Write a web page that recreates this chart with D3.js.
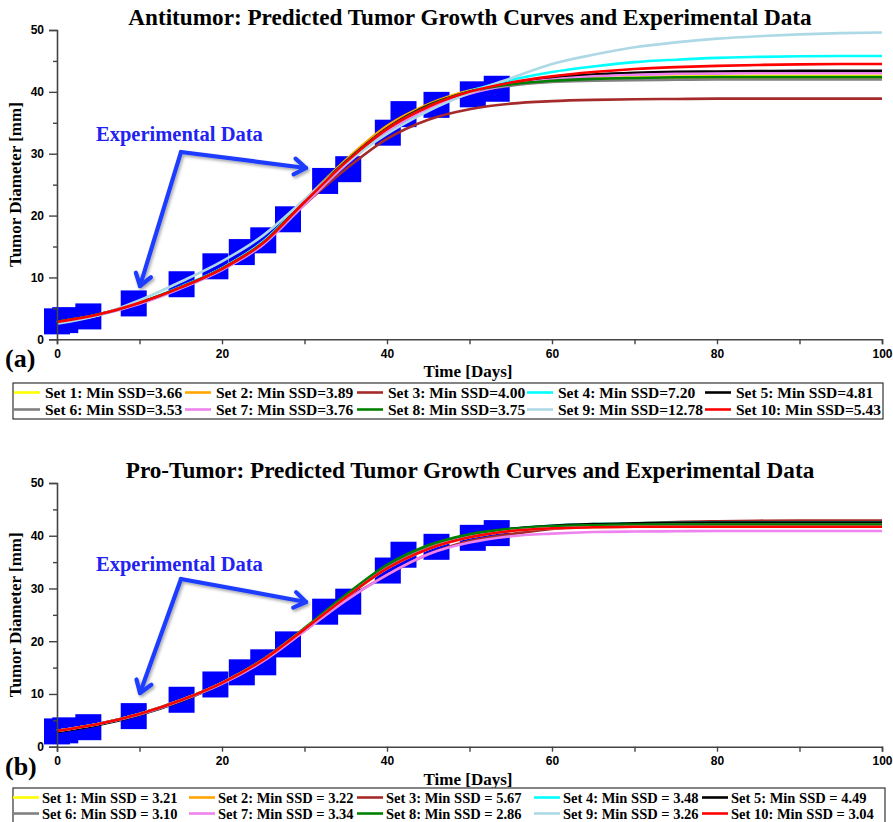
<!DOCTYPE html>
<html>
<head>
<meta charset="utf-8">
<script src="https://cdn.jsdelivr.net/npm/d3@7"></script>
<style>
  html, body { margin: 0; padding: 0; background: #fff; }
  svg { display: block; }
</style>
</head>
<body>
<svg id="chart" width="893" height="822"></svg>
<script>
// ---- data ----
const setNames = ["Set 1", "Set 2", "Set 3", "Set 4", "Set 5", "Set 6", "Set 7", "Set 8", "Set 9", "Set 10"];
const setColors = ["#ffff00", "#ffa500", "#a52a2a", "#00ffff", "#000000", "#808080", "#ee82ee", "#008000", "#add8e6", "#ff0000"];

// experimental measurements (day, diameter in mm)
const expDays = [0, 1, 3.8, 9.3, 15.1, 19.2, 22.4, 25, 28, 32.5, 35.3, 40.1, 42, 46, 50.4, 53.3];
const expDiameter = [2.9, 3.1, 3.7, 5.8, 8.9, 11.8, 14.1, 16.0, 19.4, 25.6, 27.5, 33.4, 36.4, 37.9, 39.6, 40.5];

// predicted curves sampled every 5 days
const curveDays = [0, 5, 10, 15, 20, 25, 30, 35, 40, 45, 50, 55, 60, 65, 70, 75, 80, 85, 90, 95, 100];

// Antitumor
const antiSet1 = [2.8, 4.0, 5.9, 8.4, 11.4, 15.6, 22.2, 28.6, 34.0, 37.7, 40.0, 41.3, 41.9, 42.2, 42.4, 42.5, 42.55, 42.6, 42.6, 42.6, 42.6];
const antiSet2 = [2.8, 4.0, 5.9, 8.4, 11.5, 15.8, 22.5, 29.0, 34.5, 38.0, 40.2, 41.3, 41.8, 42.05, 42.2, 42.25, 42.3, 42.3, 42.3, 42.3, 42.3];
const antiSet3 = [2.8, 4.0, 5.9, 8.4, 11.4, 15.5, 21.8, 27.5, 32.4, 35.5, 37.2, 38.1, 38.5, 38.7, 38.8, 38.85, 38.9, 38.9, 38.9, 38.9, 38.9];
const antiSet4 = [2.7, 3.9, 5.9, 8.5, 11.5, 15.8, 22.4, 28.7, 34.0, 37.6, 40.1, 41.9, 43.2, 44.1, 44.8, 45.2, 45.5, 45.65, 45.75, 45.8, 45.8];
const antiSet5 = [2.8, 4.0, 5.9, 8.4, 11.4, 15.6, 22.3, 28.7, 34.1, 37.8, 40.0, 41.4, 42.3, 42.8, 43.1, 43.25, 43.3, 43.35, 43.4, 43.4, 43.4];
const antiSet6 = [2.8, 4.0, 5.9, 8.4, 11.4, 15.6, 22.2, 28.6, 34.0, 37.6, 39.9, 41.0, 41.6, 41.8, 41.9, 41.95, 42.0, 42.0, 42.0, 42.0, 42.0];
const antiSet7 = [2.7, 3.9, 5.7, 8.2, 11.2, 15.3, 21.8, 28.2, 33.6, 37.3, 39.7, 41.2, 42.0, 42.5, 42.75, 42.9, 42.95, 43.0, 43.0, 43.0, 43.0];
const antiSet8 = [2.8, 4.0, 5.9, 8.4, 11.4, 15.6, 22.2, 28.6, 34.0, 37.7, 40.0, 41.2, 41.8, 42.1, 42.25, 42.35, 42.4, 42.4, 42.4, 42.4, 42.4];
const antiSet9 = [2.5, 3.9, 6.3, 9.3, 12.6, 16.8, 22.6, 28.4, 33.2, 36.9, 39.8, 42.2, 44.5, 46.0, 47.2, 48.0, 48.6, 49.0, 49.3, 49.5, 49.6];
const antiSet10 = [2.8, 4.0, 5.9, 8.4, 11.4, 15.6, 22.2, 28.6, 34.0, 37.6, 40.0, 41.5, 42.5, 43.2, 43.7, 44.0, 44.2, 44.35, 44.45, 44.5, 44.5];
const antiSSD = ["3.66", "3.89", "4.00", "7.20", "4.81", "3.53", "3.76", "3.75", "12.78", "5.43"];

// Pro-Tumor
const proSet1 = [3.0, 4.3, 6.2, 8.8, 12.1, 16.5, 22.3, 28.4, 34.0, 37.8, 40.0, 41.2, 41.8, 42.1, 42.3, 42.4, 42.45, 42.5, 42.5, 42.5, 42.5];
const proSet2 = [3.0, 4.3, 6.2, 8.8, 12.1, 16.5, 22.3, 28.3, 33.8, 37.5, 39.7, 40.9, 41.4, 41.6, 41.7, 41.7, 41.7, 41.7, 41.7, 41.7, 41.7];
const proSet3 = [3.0, 4.3, 6.2, 8.7, 12.0, 16.3, 22.0, 27.8, 32.6, 36.5, 39.0, 40.3, 41.3, 41.9, 42.3, 42.6, 42.75, 42.85, 42.9, 42.9, 42.9];
const proSet4 = [3.0, 4.3, 6.2, 8.8, 12.1, 16.5, 22.3, 28.4, 34.1, 37.9, 40.1, 41.3, 41.9, 42.2, 42.35, 42.45, 42.5, 42.5, 42.5, 42.5, 42.5];
const proSet5 = [2.8, 4.1, 6.0, 8.6, 12.0, 16.4, 22.3, 28.5, 34.2, 38.0, 40.2, 41.3, 41.9, 42.2, 42.35, 42.45, 42.5, 42.5, 42.5, 42.5, 42.5];
const proSet6 = [3.0, 4.3, 6.2, 8.8, 12.1, 16.5, 22.3, 28.4, 34.0, 37.8, 39.9, 41.0, 41.6, 41.9, 42.0, 42.1, 42.1, 42.1, 42.1, 42.1, 42.1];
const proSet7 = [3.0, 4.3, 6.1, 8.7, 11.9, 16.2, 21.9, 27.7, 32.6, 36.5, 38.7, 39.9, 40.4, 40.7, 40.8, 40.85, 40.9, 40.9, 40.9, 40.9, 40.9];
const proSet8 = [3.0, 4.3, 6.2, 8.8, 12.1, 16.6, 22.5, 28.8, 34.5, 38.2, 40.3, 41.3, 41.8, 42.0, 42.1, 42.1, 42.1, 42.1, 42.1, 42.1, 42.1];
const proSet9 = [3.0, 4.3, 6.2, 8.8, 12.1, 16.5, 22.3, 28.3, 33.8, 37.5, 39.7, 40.9, 41.4, 41.6, 41.7, 41.7, 41.7, 41.7, 41.7, 41.7, 41.7];
const proSet10 = [3.0, 4.3, 6.2, 8.8, 12.1, 16.5, 22.3, 28.3, 33.8, 37.5, 39.7, 40.9, 41.4, 41.6, 41.7, 41.7, 41.7, 41.7, 41.7, 41.7, 41.7];
const proSSD = ["3.21", "3.22", "5.67", "3.48", "4.49", "3.10", "3.34", "2.86", "3.26", "3.04"];

const yTicks = [0, 5, 10, 15, 20, 25, 30, 35, 40, 45, 50];
const xTicks = [0, 10, 20, 30, 40, 50, 60, 70, 80, 90, 100];

// ---- drawing ----
const SERIF = "'Liberation Serif', 'Times New Roman', serif";
const SANS = "'Liberation Sans', Arial, Helvetica, sans-serif";
const svg = d3.select("#chart");

const defs = svg.append("defs");
const shadow = defs.append("filter").attr("id", "arrowShadow")
  .attr("x", "-20%").attr("y", "-20%").attr("width", "140%").attr("height", "140%");
shadow.append("feDropShadow").attr("dx", 1.5).attr("dy", 2).attr("stdDeviation", 1.5)
  .attr("flood-color", "#000").attr("flood-opacity", 0.35);

function drawPanel(cfg) {
  const g = svg.append("g");
  const x = d3.scaleLinear().domain([0, 100]).range([57, 882]);
  const y = d3.scaleLinear().domain([0, 50]).range([cfg.bottom, cfg.top]);

  // title
  g.append("text").attr("x", 470).attr("y", cfg.titleY)
    .attr("text-anchor", "middle").attr("font-family", SERIF).attr("font-weight", "bold")
    .attr("font-size", 23.2).text(cfg.title);

  // experimental squares
  const sq = 26;
  g.append("g").selectAll("rect").data(expDays.map((d, i) => [d, expDiameter[i]]))
    .join("rect")
    .attr("x", d => x(d[0]) - sq / 2).attr("y", d => y(d[1]) - sq / 2)
    .attr("width", sq).attr("height", sq)
    .attr("fill", "#0000ff");

  // predicted curves
  const line = d3.line().x((d, i) => x(curveDays[i])).y(d => y(d)).curve(d3.curveMonotoneX);
  g.append("g").selectAll("path").data(cfg.series).join("path")
    .attr("d", d => line(d))
    .attr("fill", "none")
    .attr("stroke", (d, i) => setColors[i])
    .attr("stroke-width", 2.6);

  // axes
  const yAxis = d3.axisLeft(y).tickValues(yTicks).tickSizeOuter(0).tickSize(8).tickPadding(5)
    .tickFormat(d => d % 10 === 0 ? d : "");
  const ya = g.append("g").attr("transform", "translate(57,0)").call(yAxis);
  ya.selectAll(".tick").filter(d => d % 10 !== 0).select("line").attr("x2", -4);

  const xAxis = d3.axisBottom(x).tickValues(xTicks).tickSizeOuter(0).tickSize(5).tickPadding(5)
    .tickFormat(d => d % 20 === 0 ? d : "");
  const xa = g.append("g").attr("transform", `translate(0,${cfg.bottom})`).call(xAxis);

  [ya, xa].forEach(a => {
    a.select(".domain").attr("stroke", "#444").attr("stroke-width", 1.6);
    a.selectAll(".tick line").attr("stroke", "#444").attr("stroke-width", 1.4);
    a.selectAll(".tick text").attr("font-family", SANS).attr("font-weight", "bold")
      .attr("font-size", 12).attr("fill", "#000");
  });

  // axis titles
  g.append("text")
    .attr("transform", `translate(21,${(cfg.top + cfg.bottom) / 2}) rotate(-90)`)
    .attr("text-anchor", "middle").attr("font-family", SERIF).attr("font-weight", "bold")
    .attr("font-size", 17).text("Tumor Diameter [mm]");
  g.append("text").attr("x", 468).attr("y", cfg.bottom + 38)
    .attr("text-anchor", "middle").attr("font-family", SERIF).attr("font-weight", "bold")
    .attr("font-size", 17).text("Time [Days]");

  // panel tag
  g.append("text").attr("x", 5).attr("y", cfg.bottom + 28)
    .attr("font-family", SERIF).attr("font-weight", "bold")
    .attr("font-size", 26).text(cfg.tag);

  // annotation
  const blue = "#1f3cff";
  g.append("text").attr("x", 96).attr("y", cfg.noteY)
    .attr("font-family", SERIF).attr("font-weight", "bold").attr("font-size", 20.5)
    .attr("fill", "#2222f2").text("Experimental Data");
  const ag = g.append("g").attr("filter", "url(#arrowShadow)")
    .attr("stroke", blue).attr("stroke-width", 4.2).attr("fill", "none")
    .attr("stroke-linecap", "round").attr("stroke-linejoin", "round");
  const v = cfg.vertex;
  cfg.tips.forEach(t => {
    ag.append("path").attr("d", `M${v[0]},${v[1]}L${t[0]},${t[1]}`);
    const ang = Math.atan2(t[1] - v[1], t[0] - v[0]);
    const L = 14, spread = 0.6;
    const p1 = [t[0] - L * Math.cos(ang - spread), t[1] - L * Math.sin(ang - spread)];
    const p2 = [t[0] - L * Math.cos(ang + spread), t[1] - L * Math.sin(ang + spread)];
    ag.append("path").attr("d", `M${p1[0]},${p1[1]}L${t[0]},${t[1]}L${p2[0]},${p2[1]}`);
  });

  // legend
  const lg = g.append("g");
  lg.append("rect").attr("x", cfg.legend.x).attr("y", cfg.legend.y)
    .attr("width", cfg.legend.w).attr("height", cfg.legend.h)
    .attr("fill", "#fff").attr("stroke", "#333").attr("stroke-width", 1.2);
  setNames.forEach((name, i) => {
    const col = i % 5, row = Math.floor(i / 5);
    const cx = cfg.legend.cols[col];
    const cy = cfg.legend.rows[row];
    lg.append("line").attr("x1", cx).attr("x2", cx + 26).attr("y1", cy).attr("y2", cy)
      .attr("stroke", setColors[i]).attr("stroke-width", 2.6);
    lg.append("text").attr("x", cx + cfg.legend.gap).attr("y", cy)
      .attr("dy", "0.35em").attr("font-family", SERIF).attr("font-weight", "bold")
      .attr("font-size", cfg.legend.fs)
      .text(`${name}: Min SSD${cfg.legend.eq}${cfg.ssd[i]}`);
  });
}

drawPanel({
  title: "Antitumor: Predicted Tumor Growth Curves and Experimental Data",
  titleY: 25, top: 30, bottom: 339.3, tag: "(a)",
  series: [antiSet1, antiSet2, antiSet3, antiSet4, antiSet5, antiSet6, antiSet7, antiSet8, antiSet9, antiSet10],
  ssd: antiSSD,
  noteY: 141, vertex: [181, 152], tips: [[306, 168], [140, 286]],
  legend: { x: 13, y: 383, w: 870, h: 36, cols: [14, 185, 357, 527, 705], rows: [392.5, 409.5], gap: 31, fs: 15.5, eq: "=" }
});

drawPanel({
  title: "Pro-Tumor: Predicted Tumor Growth Curves and Experimental Data",
  titleY: 478, top: 483, bottom: 746.7, tag: "(b)",
  series: [proSet1, proSet2, proSet3, proSet4, proSet5, proSet6, proSet7, proSet8, proSet9, proSet10],
  ssd: proSSD,
  noteY: 571, vertex: [181, 579], tips: [[306, 602], [140, 693]],
  legend: { x: 13, y: 788, w: 872, h: 40, cols: [13, 189, 357, 534, 702], rows: [797.5, 813.5], gap: 29, fs: 14.5, eq: " = " }
});
</script>
</body>
</html>
